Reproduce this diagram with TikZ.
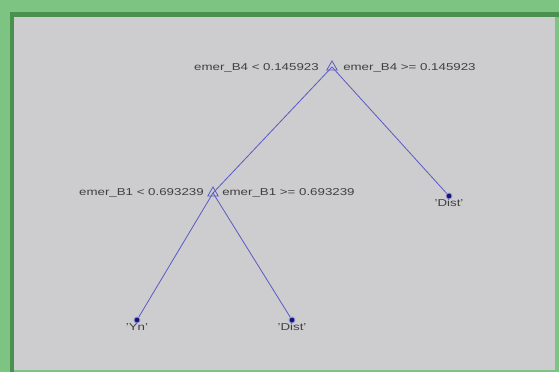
\documentclass[tikz,border=0pt]{standalone}
\usepackage{fontspec}
\setmainfont{Liberation Sans}
\usetikzlibrary{shapes.geometric}
\definecolor{frameGreen}{HTML}{7DC483}
\definecolor{frameDark}{HTML}{4A9150}
\definecolor{panelGray}{HTML}{CDCCCE}
\definecolor{edgeBlue}{HTML}{5A5AC8}
\definecolor{leafBlue}{HTML}{14147A}
\begin{document}
\begin{tikzpicture}[x=1pt,y=-1pt,
  splitnode/.style={draw=edgeBlue,isosceles triangle,shape border rotate=90,
    isosceles triangle apex angle=60,minimum size=9pt,inner sep=0pt,line width=0.8pt},
  leafnode/.style={circle,fill=leafBlue,draw=edgeBlue!60,line width=0.8pt,minimum size=6pt,inner sep=0pt},
  branch/.style={draw=edgeBlue,line width=0.8pt},
  txt/.style={font=\fontsize{10}{11}\selectfont,text=black!75,inner sep=0pt,transform shape,xscale=1.33},
  rule/.style={txt},
  cls/.style={txt}]
  \useasboundingbox (0,0) rectangle (559,372);
  % window frame
  \fill[frameGreen] (0,0) rectangle (559,372);
  \fill[frameDark] (10,12) rectangle (559,17);
  \fill[frameDark] (10,12) rectangle (14,372);
  \fill[panelGray] (14,17) rectangle (555,370);
  % tree nodes
  \node[splitnode] (root) at (332,67) {};
  \node[splitnode] (b1) at (213,193) {};
  \node[leafnode] (dr) at (449,196) {};
  \node[leafnode] (yn) at (137,320) {};
  \node[leafnode] (dl) at (292,320) {};
  % branches
  \draw[branch] (root.center) -- (b1.center);
  \draw[branch] (root.center) -- (dr);
  \draw[branch] (b1.center) -- (yn);
  \draw[branch] (b1.center) -- (dl);
  % split rules
  \node[rule,anchor=east] (r1) at (319,68) {emer\_B4 < 0.145923};
  \node[rule,anchor=west] (r2) at (343,68) {emer\_B4 >= 0.145923};
  \node[rule,anchor=east] (r3) at (204,193) {emer\_B1 < 0.693239};
  \node[rule,anchor=west] (r4) at (222,193) {emer\_B1 >= 0.693239};
  % class labels
  \node[cls,anchor=north] (l1) at (yn.south) {'Yn'};
  \node[cls,anchor=north] (l2) at (dl.south) {'Dist'};
  \node[cls,anchor=north] (l3) at (dr.south) {'Dist'};
\end{tikzpicture}
\end{document}
